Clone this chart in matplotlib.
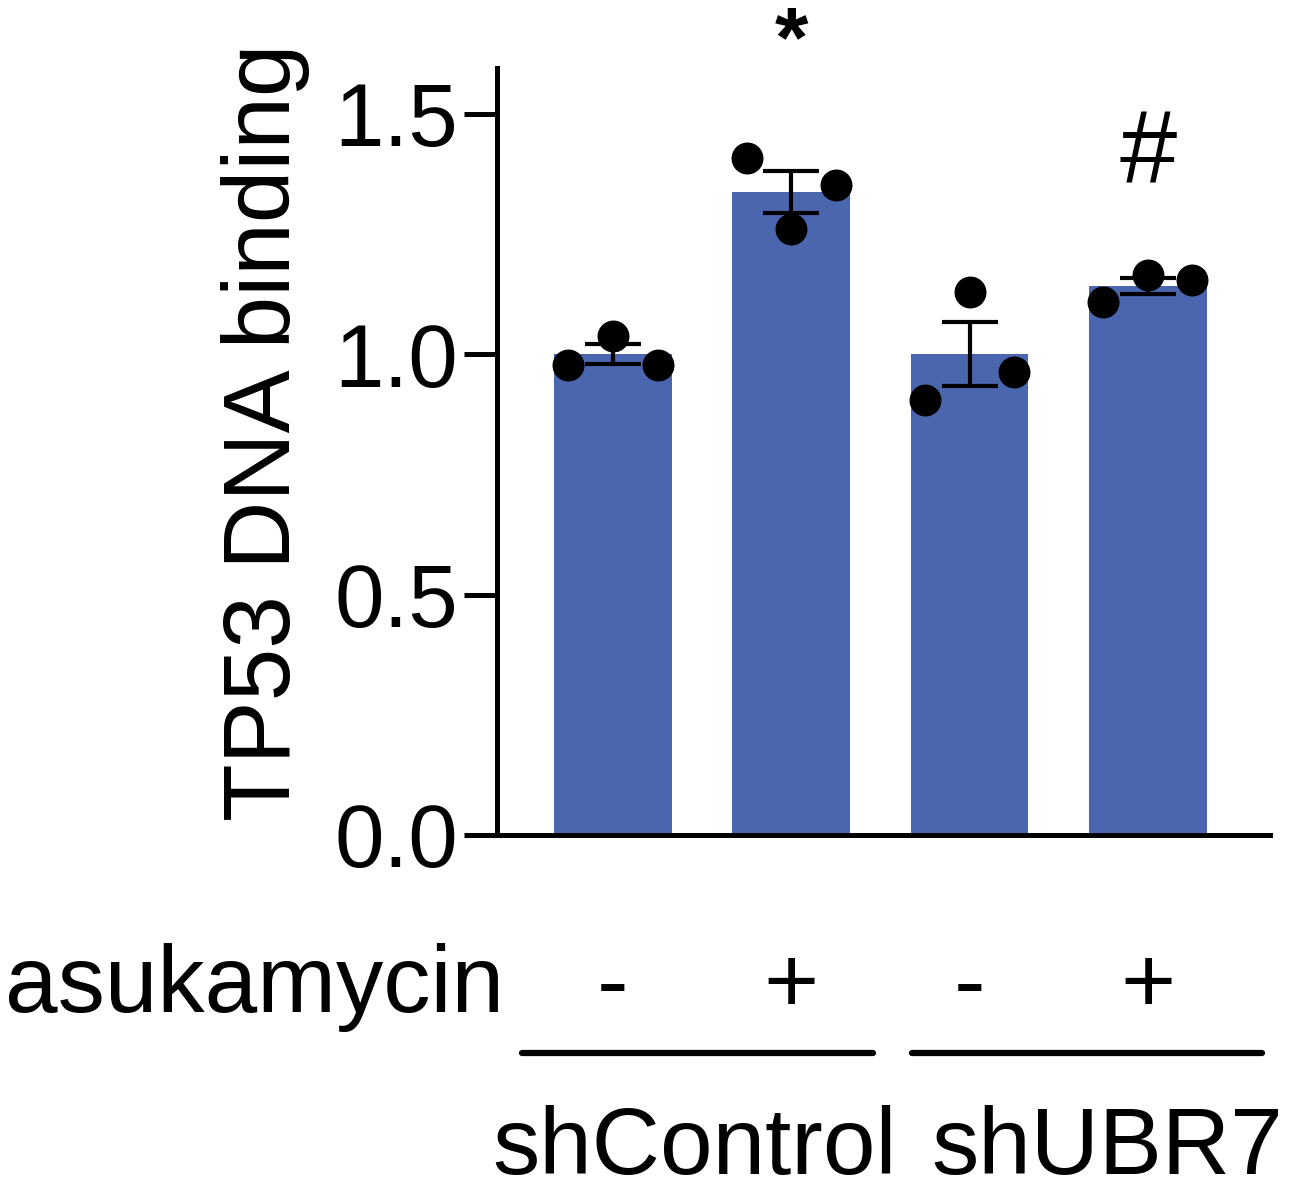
import numpy as np
import matplotlib
matplotlib.use("Agg")
import matplotlib.pyplot as plt
import matplotlib.transforms as mtransforms

plt.rcParams['font.family'] = ['Liberation Sans', 'DejaVu Sans']

# --- data ---
treatment = ['-', '+', '-', '+']
groups = ['shControl', 'shUBR7']
group_label_x = [0.46, 2.77]
group_line_start = [-0.51, 1.68]
group_line_end = [1.46, 3.64]
means = [1.0, 1.337, 1.0, 1.141]
sems = [0.021, 0.044, 0.067, 0.017]
# replicate points, ordered left / middle / right inside each bar
points_left = [0.977, 1.407, 0.904, 1.108]
points_mid = [1.037, 1.260, 1.129, 1.164]
points_right = [0.977, 1.351, 0.963, 1.154]
marks = ['', '*', '', '#']

BAR_COLOR = '#4A66AF'
FS = 68

fig = plt.figure(figsize=(12.9, 11.92), dpi=100)
ax = fig.add_axes([0.3853, 0.2995, 0.5992, 0.6435])

x = np.arange(len(means))
ax.bar(x, means, width=0.66, color=BAR_COLOR, zorder=1)
ax.errorbar(x, means, yerr=sems, fmt='none', ecolor='black', elinewidth=3,
            capsize=20, capthick=3, zorder=2)
for off, vals in zip([-0.25, 0.0, 0.25], [points_left, points_mid, points_right]):
    ax.plot(x + off, vals, 'o', color='black', markersize=22, zorder=3, clip_on=False)

for xi, m in zip(x, marks):
    if m == '*':
        ax.text(xi, 1.645, m, ha='center', va='center', fontsize=62,
                fontweight='bold', clip_on=False)
    elif m == '#':
        ax.text(xi, 1.41, m, ha='center', va='center', fontsize=74)

ax.set_xlim(-0.65, 3.685)
ax.set_ylim(0, 1.595)
ax.set_yticks([0.0, 0.5, 1.0, 1.5])
ax.set_yticklabels(['0.0', '0.5', '1.0', '1.5'])
ax.set_xticks([])
ax.tick_params(axis='y', length=24, width=3.6, labelsize=64, pad=4)
for s in ['top', 'right']:
    ax.spines[s].set_visible(False)
for s in ['left', 'bottom']:
    ax.spines[s].set_linewidth(3.6)

fig.text(266 / 1290, 1 - 432 / 1192, 'TP53 DNA binding', rotation=90,
         ha='center', va='center', fontsize=FS)

# treatment row
trans = mtransforms.blended_transform_factory(ax.transData, fig.transFigure)
base_y = 1 - 1012 / 1192
fig.text(5 / 1290, base_y, 'asukamycin', ha='left', va='baseline', fontsize=FS)
for xi, t in zip(x, treatment):
    ax.text(xi, base_y, t, transform=trans, ha='center', va='baseline', fontsize=FS)

# group lines and labels
line_y = 1 - 1053 / 1192
for x0, x1 in zip(group_line_start, group_line_end):
    ax.plot([x0, x1], [line_y, line_y], transform=trans, color='black',
            lw=4.5, solid_capstyle='round', clip_on=False)
label_y = 1 - 1174 / 1192
for gx, g in zip(group_label_x, groups):
    ax.text(gx, label_y, g, transform=trans, ha='center', va='baseline', fontsize=FS)

fig.savefig('out.png', dpi=100)
